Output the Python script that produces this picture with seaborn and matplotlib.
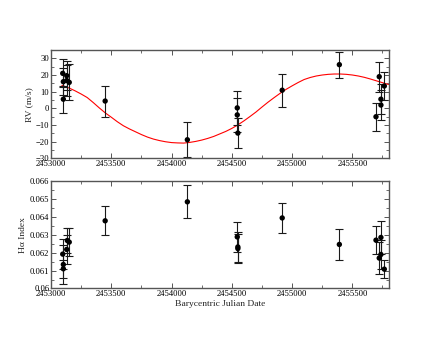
import numpy as np
import pandas as pd
import matplotlib
matplotlib.use("Agg")
import matplotlib.pyplot as plt
import seaborn as sns
from matplotlib.ticker import MultipleLocator, FuncFormatter

# RV measurements (top panel)
rv_bjd = [2453097, 2453102, 2453102, 2453130, 2453130, 2453151, 2453449, 2454131,
          2454545, 2454545, 2454550, 2454918, 2455392, 2455696, 2455723, 2455737,
          2455737, 2455765]
rv_val = [21.0, 16.0, 5.5, 19.6, 16.7, 15.6, 4.4, -18.8,
          0.3, -3.9, -14.8, 10.9, 26.2, -5.0, 19.0, 5.5,
          2.0, 13.4]
rv_err = [8.3, 8.0, 8.0, 8.5, 9.0, 10.8, 9.3, 10.6,
          10.2, 10.0, 9.0, 10.0, 7.8, 8.3, 9.0, 9.0,
          9.0, 8.5]

# orbit model
model_bjd = [2453090, 2453150, 2453200, 2453250, 2453300, 2453350, 2453400, 2453450,
             2453500, 2453550, 2453600, 2453650, 2453700, 2453750, 2453800, 2453850,
             2453900, 2453950, 2454000, 2454050, 2454100, 2454150, 2454200, 2454250,
             2454300, 2454350, 2454400, 2454450, 2454500, 2454550, 2454600, 2454650,
             2454700, 2454750, 2454800, 2454850, 2454900, 2454950, 2455000, 2455050,
             2455100, 2455150, 2455200, 2455250, 2455300, 2455350, 2455400, 2455450,
             2455500, 2455550, 2455600, 2455650, 2455700, 2455750, 2455800]
model_rv = [13.8, 12.2, 10.5, 8.6, 6.5, 3.5, 0.3, -2.7,
            -5.3, -8.0, -10.4, -12.3, -14.0, -15.7, -17.2, -18.4,
            -19.3, -20.0, -20.5, -20.7, -20.8, -20.4, -19.8, -19.0,
            -18.0, -16.8, -15.3, -13.8, -12.0, -9.9, -7.5, -4.9,
            -2.2, 0.8, 3.7, 6.4, 9.0, 11.4, 13.5, 15.5,
            17.3, 18.5, 19.4, 20.0, 20.4, 20.6, 20.6, 20.4,
            20.0, 19.4, 18.6, 17.6, 16.5, 15.4, 14.3]

# H-alpha index (bottom panel)
ha_bjd = [2453097, 2453102, 2453102, 2453130, 2453135, 2453151, 2453449, 2454131,
          2454545, 2454550, 2454550, 2454918, 2455392, 2455696, 2455723, 2455737,
          2455737, 2455765]
ha_val = [0.06192, 0.06134, 0.06110, 0.06218, 0.06268, 0.06259, 0.06378, 0.06484,
          0.06288, 0.06232, 0.06223, 0.06394, 0.06246, 0.06270, 0.06170, 0.06285,
          0.06190, 0.06108]
ha_err = [0.00085, 0.0011, 0.0005, 0.0008, 0.0007, 0.0008, 0.00082, 0.00092,
          0.00085, 0.00085, 0.0008, 0.00085, 0.00088, 0.0008, 0.0009, 0.0009,
          0.0008, 0.0005]

rv_df = pd.DataFrame({"bjd": rv_bjd, "rv": rv_val, "err": rv_err})
model_df = pd.DataFrame({"bjd": model_bjd, "rv": model_rv})
ha_df = pd.DataFrame({"bjd": ha_bjd, "ha": ha_val, "err": ha_err})

sns.set_style("ticks")
plt.rcParams["font.family"] = ["Liberation Serif", "DejaVu Serif"]

fig = plt.figure(figsize=(4.4, 3.4), dpi=100)
ax_rv = fig.add_axes([0.116, 0.534, 0.767, 0.319])
ax_ha = fig.add_axes([0.116, 0.1515, 0.767, 0.316])

frame_col = "#555555"
bar_col = "#1a1a1a"


def style_axes(ax):
    for sp in ax.spines.values():
        sp.set_color(frame_col)
        sp.set_linewidth(1.0)
    ax.tick_params(which="both", direction="in", top=True, right=True,
                   colors=frame_col, labelcolor="black", labelsize=6.2, pad=1.2)
    ax.tick_params(which="major", length=3.5, width=0.7)
    ax.tick_params(which="minor", length=2.0, width=0.6)
    ax.set_xlim(2453000, 2455800)
    ax.xaxis.set_major_locator(MultipleLocator(500))
    ax.xaxis.set_minor_locator(MultipleLocator(250))
    ax.xaxis.set_major_formatter(FuncFormatter(lambda v, p: f"{v:.0f}"))


# top: RV
sns.lineplot(data=model_df, x="bjd", y="rv", ax=ax_rv, color="red", linewidth=0.8)
ax_rv.errorbar(rv_df["bjd"], rv_df["rv"], yerr=rv_df["err"], fmt="none",
               ecolor=bar_col, elinewidth=0.8, capsize=2.8, capthick=0.8)
sns.scatterplot(data=rv_df, x="bjd", y="rv", ax=ax_rv, color="black", s=15,
                edgecolor="none", zorder=5)
style_axes(ax_rv)
ax_rv.set_ylim(-30, 35)
ax_rv.yaxis.set_major_locator(MultipleLocator(10))
ax_rv.yaxis.set_minor_locator(MultipleLocator(5))
ax_rv.set_xlabel("")
ax_rv.set_ylabel("RV (m/s)", fontsize=6.8, labelpad=2)

# bottom: H-alpha
ax_ha.errorbar(ha_df["bjd"], ha_df["ha"], yerr=ha_df["err"], fmt="none",
               ecolor=bar_col, elinewidth=0.8, capsize=2.8, capthick=0.8)
sns.scatterplot(data=ha_df, x="bjd", y="ha", ax=ax_ha, color="black", s=15,
                edgecolor="none", zorder=5)
style_axes(ax_ha)
ax_ha.set_ylim(0.06, 0.066)
ax_ha.yaxis.set_major_locator(MultipleLocator(0.001))
ax_ha.yaxis.set_minor_locator(MultipleLocator(0.0005))
ax_ha.yaxis.set_major_formatter(FuncFormatter(lambda v, p: f"{v:g}"))
ax_ha.set_xlabel("Barycentric Julian Date", fontsize=6.8, labelpad=1)
ax_ha.set_ylabel("H\u03b1 Index", fontsize=6.8, labelpad=2)

fig.savefig("out.png", dpi=100)
